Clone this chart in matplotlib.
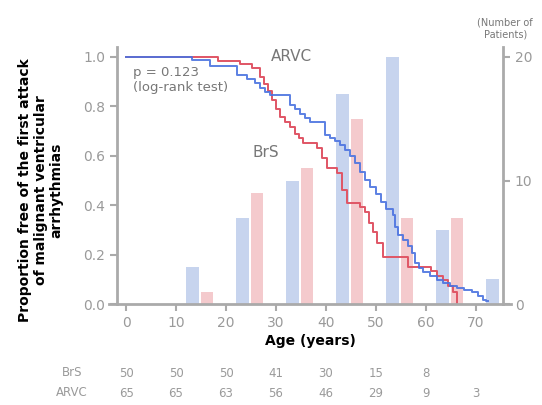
"""Kaplan-Meier style plot of BrS vs ARVC with age histogram."""
import matplotlib
matplotlib.use("Agg")
import matplotlib.pyplot as plt

# survival curves (age in years, proportion free after each step)
arvc_t = [0, 13.2, 16.8, 22.2, 24.2, 25.8, 26.8, 27.8, 28.8, 32.8, 33.8, 34.8,
          35.8, 36.8, 39.8, 40.8, 41.8, 42.8, 43.8, 44.8, 45.8, 46.8, 47.8,
          48.8, 50.0, 51.0, 52.0, 53.4, 53.8, 54.4, 55.4, 56.4, 57.2, 57.8,
          58.6, 59.4, 60.8, 62.2, 63.4, 64.8, 66.2, 67.6, 69.2, 70.4, 71.4,
          72.0, 72.4]
arvc_s = [1.0, 0.988, 0.964, 0.927, 0.91, 0.895, 0.874, 0.858, 0.846, 0.806,
          0.79, 0.77, 0.753, 0.737, 0.684, 0.672, 0.66, 0.645, 0.625, 0.598,
          0.57, 0.533, 0.502, 0.474, 0.445, 0.415, 0.385, 0.36, 0.312, 0.279,
          0.26, 0.235, 0.206, 0.166, 0.148, 0.13, 0.115, 0.097, 0.085, 0.075,
          0.065, 0.057, 0.049, 0.035, 0.016, 0.012, 0.012]

brs_t = [0, 18.4, 22.8, 25.2, 26.8, 27.6, 28.4, 29.2, 30.0, 30.8, 31.8, 32.8,
         33.8, 34.6, 35.4, 38.2, 39.2, 40.2, 42.2, 43.2, 44.2, 46.8, 47.8,
         48.6, 49.4, 50.2, 51.4, 56.4, 61.0, 62.2, 63.4, 64.4, 65.4, 66.2]
brs_s = [1.0, 0.985, 0.97, 0.955, 0.92, 0.89, 0.86, 0.825, 0.79, 0.757, 0.735,
         0.715, 0.69, 0.67, 0.652, 0.632, 0.59, 0.55, 0.53, 0.46, 0.41, 0.393,
         0.372, 0.33, 0.29, 0.247, 0.19, 0.15, 0.135, 0.115, 0.097, 0.075,
         0.05, 0.0]

# number of patients per age decade
arvc_decades = [10, 20, 30, 40, 50, 60, 70]
arvc_counts = [3, 7, 10, 17, 20, 6, 2]
brs_decades = [10, 20, 30, 40, 50, 60]
brs_counts = [1, 9, 11, 15, 7, 7]

# numbers at risk
risk_ages = [0, 10, 20, 30, 40, 50, 60, 70]
brs_risk = [50, 50, 50, 41, 30, 15, 8]
arvc_risk = [65, 65, 63, 56, 46, 29, 9, 3]

grey = "#9a9a9a"
blue_line = "#4a72e0"
red_line = "#e05565"
blue_bar = "#c7d4ee"
red_bar = "#f4cacd"

fig = plt.figure(figsize=(5.42, 4.05), dpi=100)
ax = fig.add_axes([0.216, 0.249, 0.712, 0.635])
ax2 = ax.twinx()

# bars on the right axis, behind the curves
ax2.bar([d + 3.3 for d in arvc_decades], arvc_counts, width=2.5,
        color=blue_bar, zorder=1)
ax2.bar([d + 6.2 for d in brs_decades], brs_counts, width=2.5,
        color=red_bar, zorder=1)
ax2.set_ylim(0, 20.8)
ax2.set_yticks([0, 10, 20])
ax.set_zorder(ax2.get_zorder() + 1)
ax.patch.set_visible(False)

ax.step(brs_t, brs_s, where="post", color=red_line, lw=1.4)
ax.step(arvc_t, arvc_s, where="post", color=blue_line, lw=1.4, alpha=0.9)

ax.set_xlim(-1.8, 75.4)
ax.set_ylim(0, 1.04)
ax.set_xticks(range(0, 71, 10))
ax.set_yticks([0.0, 0.2, 0.4, 0.6, 0.8, 1.0])
ax.set_yticklabels(["0.0", "0.2", "0.4", "0.6", "0.8", "1.0"])

for a in (ax, ax2):
    a.spines["top"].set_visible(False)
    for side in ("left", "right", "bottom"):
        a.spines[side].set_color("#aaaaaa")
        a.spines[side].set_linewidth(2)
    a.tick_params(colors="#aaaaaa", labelcolor=grey, labelsize=10,
                  length=5, width=1.5)
ax.spines["right"].set_visible(False)
ax2.spines["left"].set_visible(False)
ax2.spines["bottom"].set_visible(False)
ax.spines["bottom"].set_visible(False)
ax.axhline(0, xmin=-0.02, xmax=1.02, color="#aaaaaa", lw=2, clip_on=False)

ax.text(33, 1.0, "ARVC", fontsize=11, color="#777777", ha="center", va="center")
ax.text(28, 0.615, "BrS", fontsize=11, color="#777777", ha="center", va="center")
ax.text(1.4, 0.905, "p = 0.123\n(log-rank test)", fontsize=9.5,
        color="#777777", ha="left", va="center", linespacing=1.2)

ax.set_xlabel("Age (years)", fontsize=10, fontweight="bold", labelpad=3)
fig.text(0.075, 0.53, "Proportion free of the first attack\nof malignant ventricular\narrhythmias",
         rotation=90, fontsize=10, fontweight="bold", ha="center", va="center",
         linespacing=1.15)
fig.text(0.932, 0.93, "(Number of\nPatients)", fontsize=7, color="#777777",
         ha="center", va="center")

# numbers at risk table
fig.text(72 / 542, 1 - 373 / 405, "BrS", fontsize=8.5, color=grey,
         ha="center", va="center")
fig.text(72 / 542, 1 - 393 / 405, "ARVC", fontsize=8.5, color=grey,
         ha="center", va="center")
for age, n in zip(risk_ages, brs_risk):
    ax.text(age, -0.28, str(n), fontsize=8.5, color=grey, ha="center",
            va="center", clip_on=False)
for age, n in zip(risk_ages, arvc_risk):
    ax.text(age, -0.361, str(n), fontsize=8.5, color=grey, ha="center",
            va="center", clip_on=False)

fig.savefig("out.png", dpi=100)
